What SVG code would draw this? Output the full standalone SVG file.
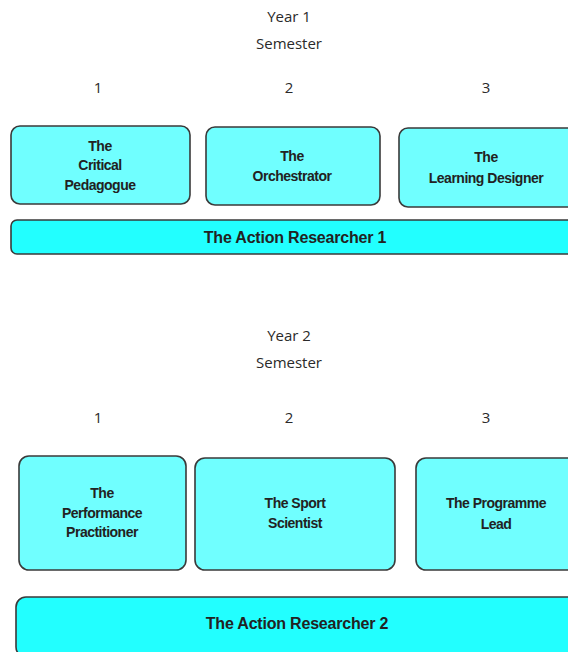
<svg xmlns="http://www.w3.org/2000/svg" width="568" height="652" viewBox="0 0 568 652">
<style>
.hdr{font-family:"Open Sans","Liberation Sans",sans-serif;font-size:15px;fill:#2a2a2a;text-anchor:middle}
.box{fill:#70FFFF;stroke:#3a3a3a;stroke-width:1.6}
.bar{fill:#22FFFF;stroke:#3a3a3a;stroke-width:1.6}
.lbl{font-family:"Liberation Sans",Arial,sans-serif;font-weight:bold;font-size:14px;letter-spacing:-0.5px;fill:#222;text-anchor:middle}
.blbl{font-family:"Liberation Sans",Arial,sans-serif;font-weight:bold;font-size:16px;letter-spacing:-0.2px;fill:#222;text-anchor:middle}
</style>
<rect width="568" height="652" fill="#fff"/>
<g id="year1-header">
<text class="hdr" x="289" y="22">Year 1</text>
<text class="hdr" x="289" y="49">Semester</text>
<text class="hdr" x="98" y="93">1</text>
<text class="hdr" x="289" y="93">2</text>
<text class="hdr" x="486" y="93">3</text>
</g>
<g id="critical-pedagogue">
<rect class="box" x="11" y="126" width="179" height="78" rx="9"/>
<text class="lbl" x="100" y="151">The</text>
<text class="lbl" x="100" y="170">Critical</text>
<text class="lbl" x="100" y="190">Pedagogue</text>
</g>
<g id="orchestrator">
<rect class="box" x="206" y="127" width="174" height="78" rx="9"/>
<text class="lbl" x="292" y="161">The</text>
<text class="lbl" x="292" y="181">Orchestrator</text>
</g>
<g id="learning-designer">
<rect class="box" x="399" y="128" width="180" height="79" rx="9"/>
<text class="lbl" x="486" y="162">The</text>
<text class="lbl" x="486" y="183">Learning Designer</text>
</g>
<g id="action-researcher-1">
<rect class="bar" x="11" y="220" width="568" height="34" rx="6"/>
<text class="blbl" x="295" y="243">The Action Researcher 1</text>
</g>
<g id="year2-header">
<text class="hdr" x="289" y="341">Year 2</text>
<text class="hdr" x="289" y="368">Semester</text>
<text class="hdr" x="98" y="423">1</text>
<text class="hdr" x="289" y="423">2</text>
<text class="hdr" x="486" y="423">3</text>
</g>
<g id="performance-practitioner">
<rect class="box" x="19" y="456" width="167" height="114" rx="10"/>
<text class="lbl" x="102" y="498">The</text>
<text class="lbl" x="102" y="518">Performance</text>
<text class="lbl" x="102" y="537">Practitioner</text>
</g>
<g id="sport-scientist">
<rect class="box" x="195" y="458" width="200" height="112" rx="10"/>
<text class="lbl" x="295" y="508">The Sport</text>
<text class="lbl" x="295" y="528">Scientist</text>
</g>
<g id="programme-lead">
<rect class="box" x="416" y="458" width="170" height="112" rx="10"/>
<text class="lbl" x="496" y="508">The Programme</text>
<text class="lbl" x="496" y="529">Lead</text>
</g>
<g id="action-researcher-2">
<rect class="bar" x="16" y="597" width="570" height="60" rx="10"/>
<text class="blbl" x="297" y="629">The Action Researcher 2</text>
</g>
<g id="connectors"></g>
</svg>
